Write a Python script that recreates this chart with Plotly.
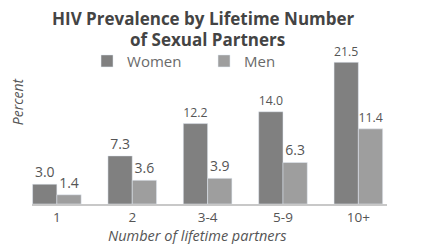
import plotly.graph_objects as go

categories = ["1", "2", "3-4", "5-9", "10+"]
women = [3.0, 7.3, 12.2, 14.0, 21.5]
men = [1.4, 3.6, 3.9, 6.3, 11.4]
women_labels = ["3.0", "7.3", "12.2", "14.0", "21.5"]
men_labels = ["1.4", "3.6", "3.9", "6.3", "11.4"]

font = "Open Sans"
fig = go.Figure()
fig.add_trace(go.Bar(x=categories, y=women, name="Women", marker_color="#808080",
                     text=women_labels, textposition="outside", cliponaxis=False,
                     textfont=dict(size=14, color="#555555", family=font)))
fig.add_trace(go.Bar(x=categories, y=men, name="Men", marker_color="#9e9e9e",
                     text=men_labels, textposition="outside", cliponaxis=False,
                     textfont=dict(size=14, color="#555555", family=font)))

fig.update_layout(
    width=419, height=236,
    margin=dict(l=24, r=40, t=50.8, b=40, autoexpand=False),
    paper_bgcolor="white", plot_bgcolor="white",
    barmode="group", bargap=0.355, bargroupgap=0,
    showlegend=True,
    legend=dict(orientation="h", x=0.155, xanchor="left", y=0.985, yanchor="middle",
                font=dict(family=font, size=15, color="#6a6a6a"),
                itemwidth=30, traceorder="normal", bgcolor="rgba(0,0,0,0)",
                entrywidth=72, entrywidthmode="pixels"),
    font=dict(family=font, color="#555555"),
    annotations=[
        dict(text="<b>HIV Prevalence by Lifetime Number</b>",
             xref="paper", yref="paper", x=0.4845, y=1.0, yshift=41, xanchor="center",
             yanchor="middle", showarrow=False, borderpad=0,
             font=dict(family=font, size=17, color="#444444")),
        dict(text="<b>of Sexual Partners</b>",
             xref="paper", yref="paper", x=0.493, y=1.0, yshift=20, xanchor="center",
             yanchor="middle", showarrow=False, borderpad=0,
             font=dict(family=font, size=17, color="#444444")),
        dict(text="<i>Percent</i>", xref="paper", yref="paper", x=0, xshift=-15,
             y=0.709, textangle=-90, xanchor="center", yanchor="middle", showarrow=False,
             borderpad=0, font=dict(family=font, size=14, color="#555555")),
        dict(text="<i>Number of lifetime partners</i>", xref="paper", yref="paper",
             x=0.466, y=0, yshift=-31, xanchor="center", yanchor="middle", showarrow=False,
             borderpad=0, font=dict(family=font, size=14.5, color="#555555")),
    ],
)
fig.update_xaxes(range=[-0.33, 4.38], showline=True, linecolor="#c8c8c8", linewidth=2,
                 ticks="", automargin=False, tickfont=dict(size=13.5, color="#555555"))
fig.update_yaxes(range=[0, 22], showgrid=False, showticklabels=False, zeroline=False,
                 automargin=False)

fig.write_html("out.html")
